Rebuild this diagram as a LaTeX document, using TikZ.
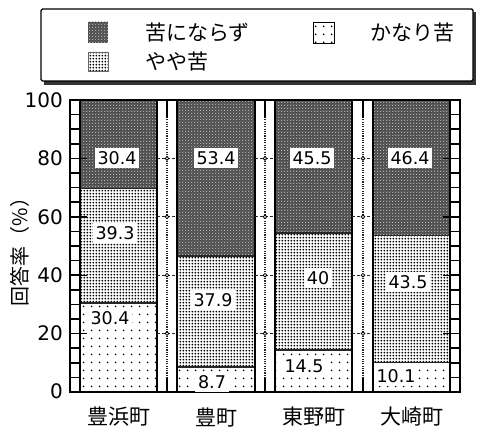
\documentclass[tikz,border=0pt]{standalone}
\usepackage{fontspec}
\setmainfont{DejaVu Sans}
\newfontfamily\jp{Noto Sans CJK JP}
\usetikzlibrary{patterns}
\pgfdeclarepatternformonly{densedots}{\pgfpointorigin}{\pgfpoint{3.2pt}{3.2pt}}{\pgfpoint{3.2pt}{3.2pt}}{\pgfpathcircle{\pgfpoint{1.6pt}{1.6pt}}{1.2pt}\pgfusepath{fill}}
\pgfdeclarepatternformonly{sparsedots}{\pgfpointorigin}{\pgfpoint{8pt}{8pt}}{\pgfpoint{8pt}{8pt}}{\pgfpathcircle{\pgfpoint{4pt}{4pt}}{1.0pt}\pgfusepath{fill}}
\pgfdeclarepatternformonly{checker}{\pgfpointorigin}{\pgfpoint{3.2pt}{3.2pt}}{\pgfpoint{3.2pt}{3.2pt}}{\pgfpathrectangle{\pgfpoint{0.3pt}{0.3pt}}{\pgfpoint{1.1pt}{1.1pt}}\pgfpathrectangle{\pgfpoint{1.9pt}{1.9pt}}{\pgfpoint{0.9pt}{0.9pt}}\pgfusepath{fill}}
\tikzset{
  darkfill/.style={preaction={fill=black!70}, pattern=checker, pattern color=white!70!black},
  medfill/.style={preaction={fill=white}, pattern=densedots, pattern color=black},
  lightfill/.style={preaction={fill=white}, pattern=sparsedots, pattern color=black},
  seg/.style={line width=1.8pt, black!85},
  val/.style={fill=white, inner xsep=3pt, inner ysep=3pt, font=\fontsize{17.5}{18}\selectfont},
  axnum/.style={anchor=east, inner sep=0pt, font=\fontsize{20}{20}\selectfont},
  jplab/.style={font=\jp\fontsize{21}{21}\selectfont, inner sep=0pt},
  gapdot/.style={line width=1.5pt, dash pattern=on 1.1pt off 1.2pt, black!85},
  gapdash/.style={line width=1.3pt, dash pattern=on 3pt off 2pt, black!85},
}
\begin{document}
\begin{tikzpicture}[x=1pt,y=-1pt]
\useasboundingbox (0,0) rectangle (478,430);
% legend
\fill[black!80] (44,12) rectangle (476,85);
\draw[line width=1.4pt, fill=white, rounded corners=1.5pt] (41,9) rectangle (473,81);
\path[darkfill] (88,22) rectangle (108,43);
\path[medfill] (88,52) rectangle (108,71);
\draw[black!60, line width=0.6pt] (88,52) rectangle (108,71);
\path[lightfill] (313,22) rectangle (334,43);
\draw[line width=0.8pt] (313,22) rectangle (334,43);
\node[jplab, anchor=west] (l1) at (145,33) {苦にならず};
\node[jplab, anchor=west] (l2) at (145,62) {やや苦};
\node[jplab, anchor=west] (l3) at (370,33) {かなり苦};
% bars: left, right, y1, y2
\foreach \L/\R/\ya/\yb in {80/157/303.2/188.5, 177/255/366.6/255.9, 275/352/349.7/232.9, 373/450/362.5/235.5}{
  \path[lightfill] (\L,392) rectangle (\R,\ya);
  \path[medfill] (\L,\ya) rectangle (\R,\yb);
  \path[darkfill] (\L,\yb) rectangle (\R,100);
  \draw[seg] (\L,\ya) -- (\R,\ya);
  \draw[seg] (\L,\yb) -- (\R,\yb);
  \draw[line width=1.2pt] (\L,100) rectangle (\R,392);
}
% gaps
\foreach \C/\L/\R in {167/157/177, 265/255/275, 363/352/373}{
  \draw[gapdot] (\C,101) -- (\C,391);
  \draw[line width=1.6pt] (\C,100) -- (\C,118);
  \draw[line width=1.6pt] (\C,378) -- (\C,392);
  \foreach \y in {158.4, 216.8, 275.2, 333.6}{
    \draw[gapdash] (\L,\y) -- (\R,\y);
    \draw[line width=0.8pt, fill=white] (\C,\y) circle (1.8pt);
  }
}
% ladders
\foreach \A/\B in {70/80, 450/460}{
  \fill[white] (\A,100) rectangle (\B,392);
  \foreach \k in {0,...,20}{
    \draw[line width=1.5pt] (\A,{392-14.6*\k}) -- (\B,{392-14.6*\k});
  }
  \draw[line width=1.4pt] (\A,100) -- (\A,392);
  \draw[line width=1.4pt] (\B,100) -- (\B,392);
}
\foreach \y in {158.4, 216.8, 275.2, 333.6}{
  \draw[line width=1.4pt] (80,\y) -- (87,\y);
  \draw[line width=1.4pt] (443,\y) -- (450,\y);
}
\draw[line width=1.8pt] (70,100) rectangle (460,392);
% value labels
\node[val] (v11) at (117,158) {30.4};
\node[val] (v12) at (115,233) {39.3};
\node[val] (v13) at (110,318) {30.4};
\node[val] (v21) at (216,158) {53.4};
\node[val] (v22) at (213,300) {37.9};
\node[val] (v23) at (212,382) {8.7};
\node[val] (v31) at (312,158) {45.5};
\node[val] (v32) at (318,278) {40};
\node[val] (v33) at (304,366) {14.5};
\node[val] (v41) at (410,158) {46.4};
\node[val] (v42) at (408,282) {43.5};
\node[val] (v43) at (396,376) {10.1};
% axis numbers
\node[axnum] (a100) at (63,100) {100};
\node[axnum] (a80) at (63,158.4) {80};
\node[axnum] (a60) at (63,216.8) {60};
\node[axnum] (a40) at (63,275.2) {40};
\node[axnum] (a20) at (63,333.6) {20};
\node[axnum] (a0) at (63,391) {0};
\node[jplab, rotate=90, font=\jp\fontsize{20}{20}\selectfont] (ytitle) at (20,247) {回答率（\%）};
% category labels
\node[jplab] (c1) at (119,417) {豊浜町};
\node[jplab] (c2) at (216,417) {豊町};
\node[jplab] (c3) at (314,417) {東野町};
\node[jplab] (c4) at (412,417) {大崎町};
\end{tikzpicture}
\end{document}
